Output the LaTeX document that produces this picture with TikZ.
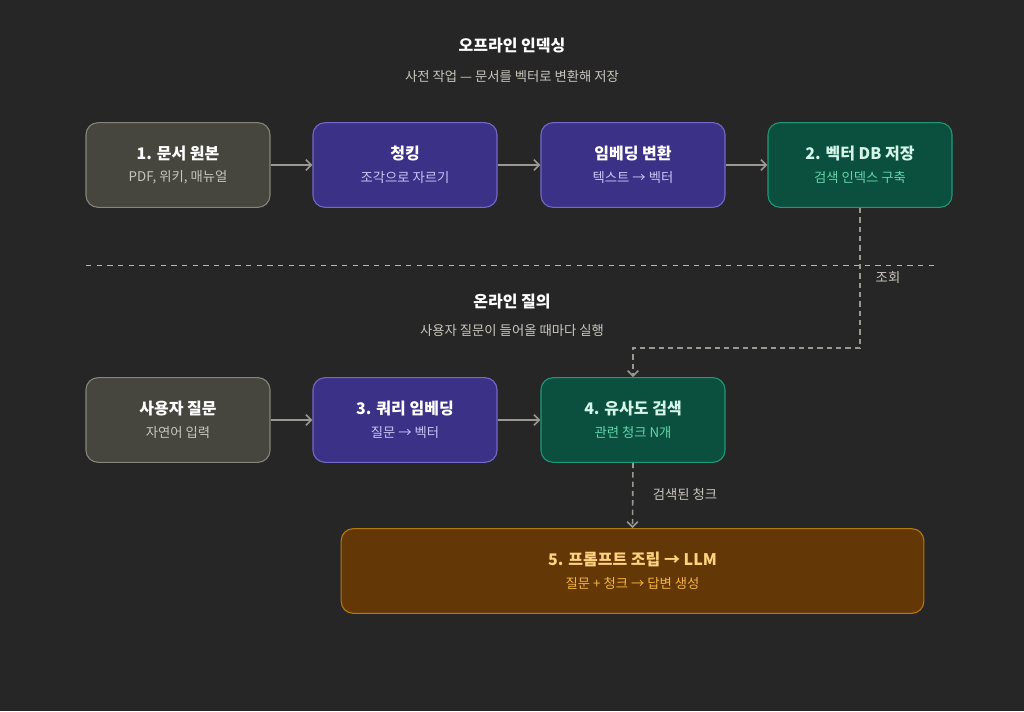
\documentclass[tikz,border=0pt]{standalone}
\usepackage{fontspec}
\setmainfont{Noto Sans CJK KR}
\usetikzlibrary{arrows.meta}
\definecolor{bg}{HTML}{262626}
\definecolor{gf}{HTML}{46463F}\definecolor{gb}{HTML}{85857A}\definecolor{gs}{HTML}{C8C6BC}
\definecolor{pf}{HTML}{3B3288}\definecolor{pb}{HTML}{7468CC}\definecolor{ps}{HTML}{CBC4F4}
\definecolor{nf}{HTML}{0B4F3F}\definecolor{nb}{HTML}{1F9A78}\definecolor{nt}{HTML}{D4F5E8}\definecolor{ns}{HTML}{62D6AC}
\definecolor{of}{HTML}{633806}\definecolor{ob}{HTML}{B8780F}\definecolor{ot}{HTML}{FFD27F}\definecolor{os}{HTML}{F5B445}
\definecolor{ln}{HTML}{9A9890}
\begin{document}
\begin{tikzpicture}[x=0.75pt,y=-0.75pt,
 box/.style={rounded corners=9pt,line width=0.8pt,minimum width=138pt,minimum height=63.5pt,align=center,inner sep=0pt},
 gray/.style={box,fill=gf,draw=gb},
 pur/.style={box,fill=pf,draw=pb},
 grn/.style={box,fill=nf,draw=nb},
 ttl/.style={font=\bfseries\fontsize{12}{14}\selectfont},
 sub/.style={font=\fontsize{10}{12}\selectfont},
 arr/.style={draw=ln,line width=1.2pt,-{Straight Barb[length=4pt,width=8pt]}},
 darr/.style={arr,dashed,dash pattern=on 4pt off 3pt}]
\fill[bg] (0,0) rectangle (1024,711);
\node[white,ttl] (t1) at (512,46) {오프라인 인덱싱};
\node[gs,sub] (s1) at (512,76) {사전 작업 — 문서를 벡터로 변환해 저장};
\node[white,ttl] (t2) at (512,302) {온라인 질의};
\node[gs,sub] (s2) at (512,331) {사용자 질문이 들어올 때마다 실행};
\draw[gb!60,dashed,dash pattern=on 4pt off 4pt,line width=0.5pt] (86,265) -- (935,265);
\node[gray] (a) at (178,165) {\textcolor{white}{\bfseries\fontsize{12}{14}\selectfont 1. 문서 원본}\\[5pt]\textcolor{gs}{\fontsize{10}{12}\selectfont PDF, 위키, 매뉴얼}};
\node[pur] (b) at (405,165) {\textcolor{white}{\bfseries\fontsize{12}{14}\selectfont 청킹}\\[5pt]\textcolor{ps}{\fontsize{10}{12}\selectfont 조각으로 자르기}};
\node[pur] (c) at (633,165) {\textcolor{white}{\bfseries\fontsize{12}{14}\selectfont 임베딩 변환}\\[5pt]\textcolor{ps}{\fontsize{10}{12}\selectfont 텍스트 → 벡터}};
\node[grn] (d) at (860,165) {\textcolor{nt}{\bfseries\fontsize{12}{14}\selectfont 2. 벡터 DB 저장}\\[5pt]\textcolor{ns}{\fontsize{10}{12}\selectfont 검색 인덱스 구축}};
\node[gray] (e) at (178,420) {\textcolor{white}{\bfseries\fontsize{12}{14}\selectfont 사용자 질문}\\[5pt]\textcolor{gs}{\fontsize{10}{12}\selectfont 자연어 입력}};
\node[pur] (f) at (405,420) {\textcolor{white}{\bfseries\fontsize{12}{14}\selectfont 3. 쿼리 임베딩}\\[5pt]\textcolor{ps}{\fontsize{10}{12}\selectfont 질문 → 벡터}};
\node[grn] (g) at (633,420) {\textcolor{nt}{\bfseries\fontsize{12}{14}\selectfont 4. 유사도 검색}\\[5pt]\textcolor{ns}{\fontsize{10}{12}\selectfont 관련 청크 N개}};
\node[box,fill=of,draw=ob,minimum width=437pt] (h) at (632.5,571) {\textcolor{ot}{\bfseries\fontsize{12}{14}\selectfont 5. 프롬프트 조립 → LLM}\\[5pt]\textcolor{os}{\fontsize{10}{12}\selectfont 질문 + 청크 → 답변 생성}};
\draw[arr] (a) -- (b);
\draw[arr] (b) -- (c);
\draw[arr] (c) -- (d);
\draw[arr] (e) -- (f);
\draw[arr] (f) -- (g);
\coordinate (k1) at (860,348);
\coordinate (k2) at (633,348);
\draw[darr] (d.south) -- (k1) -- (k2) -- (g.north);
\node[gs,sub] (l1) at (888,277) {조회};
\draw[darr] (g.south) -- (h.north);
\node[gs,sub] (l2) at (685,494) {검색된 청크};
\end{tikzpicture}
\end{document}
